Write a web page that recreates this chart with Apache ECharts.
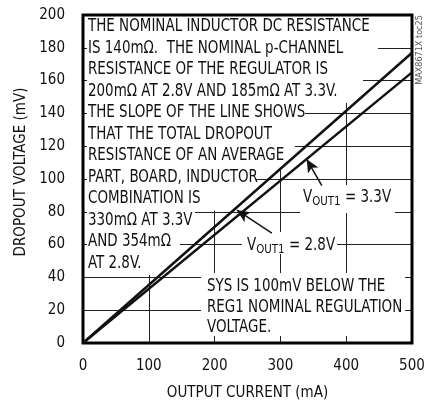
<!DOCTYPE html>
<html>
<head>
<meta charset="utf-8">
<script src="https://cdn.jsdelivr.net/npm/echarts@6/dist/echarts.min.js"></script>
<style>
  html, body { margin: 0; padding: 0; background: #fff; }
  #chart { width: 433px; height: 408px; }
</style>
</head>
<body>
<div id="chart"></div>
<script>
  // 数据
  const currentMA = [0, 500]
  const dropout28 = [0, 177] // VOUT1 = 2.8V, 354mΩ
  const dropout33 = [0, 165] // VOUT1 = 3.3V, 330mΩ
  const xTicks = [0, 100, 200, 300, 400, 500]
  const yTicks = [0, 20, 40, 60, 80, 100, 120, 140, 160, 180, 200]
  // 箭头: [尾, 头]
  const arrow33 = [[363, 96], [340, 112]]
  const arrow28 = [[287, 67], [234, 81]]

  const noteLines = [
    'THE NOMINAL INDUCTOR DC RESISTANCE',
    'IS 140mΩ.  THE NOMINAL p-CHANNEL',
    'RESISTANCE OF THE REGULATOR IS',
    '200mΩ AT 2.8V AND 185mΩ AT 3.3V.',
    'THE SLOPE OF THE LINE SHOWS',
    'THAT THE TOTAL DROPOUT',
    'RESISTANCE OF AN AVERAGE',
    'PART, BOARD, INDUCTOR',
    'COMBINATION IS',
    '330mΩ AT 3.3V',
    'AND 354mΩ',
    'AT 2.8V.'
  ]
  // 每行白底的右边界(像素), 遮住网格线
  const noteMaskRight = [378, 378, 363, 363, 305, 290, 295, 256, 218, 195, 180, 155]
  const sysLines = ['SYS IS 100mV BELOW THE', 'REG1 NOMINAL REGULATION', 'VOLTAGE.']

  const FONT = "'Liberation Sans Narrow', 'DejaVu Sans Condensed', 'Liberation Sans', sans-serif"
  const SX = 0.88 // 压窄字体

  const chart = echarts.init(document.getElementById('chart'))

  function maskEl(x1, y1, x2, y2) {
    return {
      type: 'rect',
      z: 1,
      shape: { x: x1, y: y1, width: x2 - x1, height: y2 - y1 },
      style: { fill: '#fff' }
    }
  }

  function textEl(text, x, y) {
    return {
      type: 'text',
      z: 2,
      x: x,
      y: y,
      scaleX: SX,
      style: {
        text: text,
        fill: '#111',
        font: '17px ' + FONT,
        verticalAlign: 'middle'
      }
    }
  }

  const graphics = []
  noteLines.forEach((t, i) => {
    const y = 27 + i * 21.5
    graphics.push(maskEl(87, y - 11.5, noteMaskRight[i], y + 11.5))
    graphics.push(textEl(t, 88, y))
  })
  graphics.push(maskEl(201, 273, 405, 336))
  sysLines.forEach((t, i) => graphics.push(textEl(t, 207, 287 + i * 20.5)))

  function voutLabel(v, x, y) {
    return {
      type: 'text',
      z: 2,
      x: x,
      y: y,
      scaleX: SX,
      style: {
        text: '{v|V}{s|OUT1}{v| = ' + v + '}',
        verticalAlign: 'middle',
        rich: {
          v: { fontSize: 17, fontFamily: FONT, fill: '#111', lineHeight: 20 },
          s: { fontSize: 13, fontFamily: FONT, fill: '#111', lineHeight: 15, verticalAlign: 'bottom' }
        }
      }
    }
  }
  graphics.push(maskEl(300, 185, 395, 213))
  graphics.push(voutLabel('3.3V', 303, 198))
  graphics.push(maskEl(242, 232, 337, 254))
  graphics.push(voutLabel('2.8V', 247, 246))
  graphics.push({
    type: 'text',
    x: 420,
    y: 50,
    rotation: Math.PI / 2,
    style: {
      text: 'MAX8671X toc25',
      fill: '#555',
      font: '9px ' + FONT,
      align: 'center',
      verticalAlign: 'middle'
    }
  })

  const axisLabelStyle = { fontSize: 15, fontFamily: FONT, color: '#111' }

  const option = {
    animation: false,
    grid: {
      left: 83,
      right: 21,
      top: 15,
      bottom: 65,
      show: true,
      borderColor: '#000',
      borderWidth: 3,
      z: 3
    },
    xAxis: {
      type: 'value',
      min: xTicks[0],
      max: xTicks[xTicks.length - 1],
      interval: xTicks[1] - xTicks[0],
      name: 'OUTPUT CURRENT (mA)',
      nameLocation: 'middle',
      nameGap: 43,
      nameTextStyle: axisLabelStyle,
      axisLine: { show: false },
      axisTick: { show: false },
      axisLabel: Object.assign({ margin: 16 }, axisLabelStyle),
      splitLine: { show: true, lineStyle: { color: '#222', width: 1 } }
    },
    yAxis: {
      type: 'value',
      min: yTicks[0],
      max: yTicks[yTicks.length - 1],
      interval: yTicks[1] - yTicks[0],
      name: 'DROPOUT VOLTAGE (mV)',
      nameLocation: 'middle',
      nameGap: 44,
      nameTextStyle: Object.assign({ padding: [0, 0, 0, 14] }, axisLabelStyle),
      axisLine: { show: false },
      axisTick: { show: false },
      axisLabel: Object.assign({ margin: 18 }, axisLabelStyle),
      splitLine: { show: true, lineStyle: { color: '#222', width: 1 } }
    },
    series: [
      {
        name: 'VOUT1 = 2.8V',
        type: 'line',
        symbol: 'none',
        z: 5,
        lineStyle: { color: '#111', width: 2.5 },
        data: currentMA.map((x, i) => [x, dropout28[i]]),
        markLine: {
          silent: true,
          symbol: ['none', 'arrow'],
          symbolSize: [9, 13],
          label: { show: false },
          lineStyle: { color: '#111', width: 1.5, type: 'solid' },
          data: [[{ coord: arrow28[0] }, { coord: arrow28[1] }]]
        }
      },
      {
        name: 'VOUT1 = 3.3V',
        type: 'line',
        symbol: 'none',
        z: 5,
        lineStyle: { color: '#111', width: 2.5 },
        data: currentMA.map((x, i) => [x, dropout33[i]]),
        markLine: {
          silent: true,
          symbol: ['none', 'arrow'],
          symbolSize: [9, 13],
          label: { show: false },
          lineStyle: { color: '#111', width: 1.5, type: 'solid' },
          data: [[{ coord: arrow33[0] }, { coord: arrow33[1] }]]
        }
      }
    ],
    graphic: graphics
  }

  chart.setOption(option)
</script>
</body>
</html>
